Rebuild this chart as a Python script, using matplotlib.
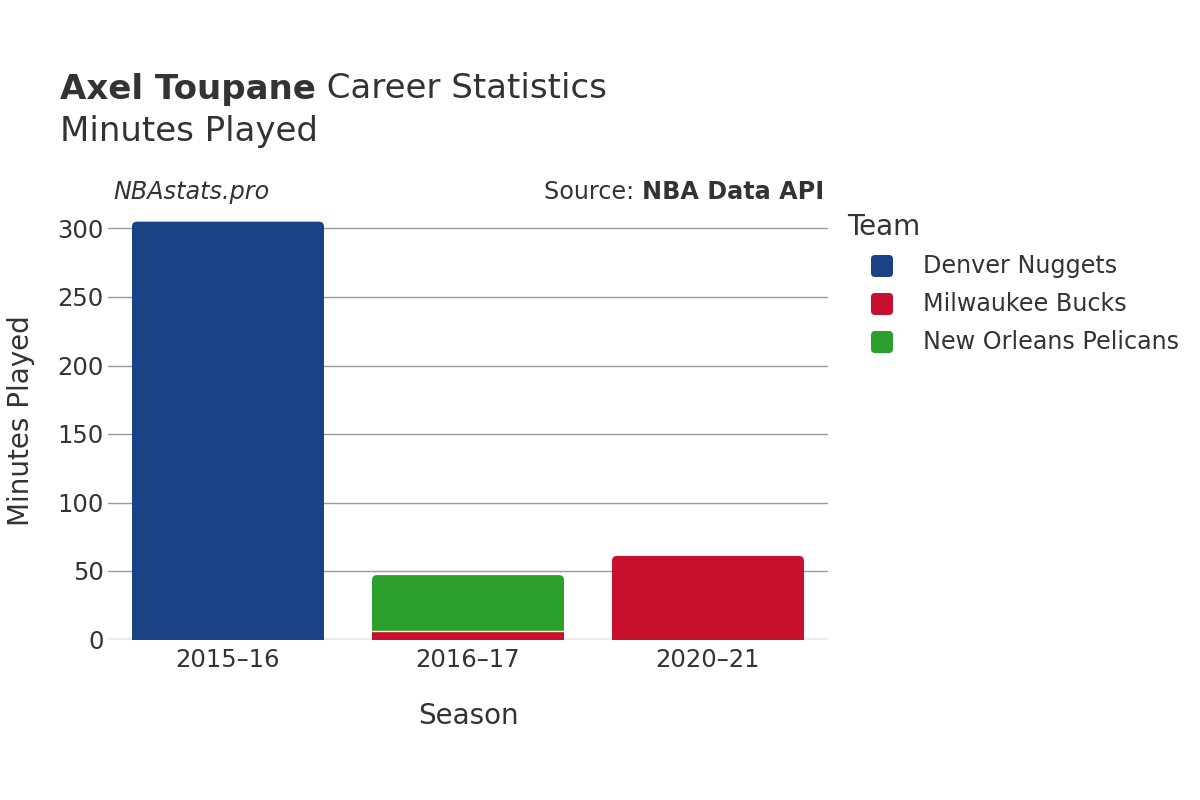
import matplotlib
matplotlib.use("Agg")
import matplotlib.pyplot as plt
from matplotlib.patches import FancyBboxPatch, Rectangle

seasons = ["2015–16", "2016–17", "2020–21"]
teams = ["Denver Nuggets", "Milwaukee Bucks", "New Orleans Pelicans"]
colors = ["#1c4286", "#c8102e", "#2ca02c"]
# minutes per team per season (stack order: Denver, Milwaukee, New Orleans)
denver = [305, 0, 0]
milwaukee = [0, 6, 61]
pelicans = [0, 41, 0]
series = [denver, milwaukee, pelicans]
yticks = [0, 50, 100, 150, 200, 250, 300]

W, H = 1200, 800
fig = plt.figure(figsize=(12, 8), dpi=100)
txt = "#333333"

ax_l, ax_r = 108, 828
y0px = 639.5
pxu = 1.37
ytop = 320
ax_t = y0px - ytop * pxu
ax = fig.add_axes([ax_l / W, 1 - y0px / H, (ax_r - ax_l) / W, (y0px - ax_t) / H])
ax.set_xlim(-0.5, len(seasons) - 0.5)
ax.set_ylim(0, ytop)
for s in ax.spines.values():
    s.set_visible(False)
ax.set_yticks(yticks)
ax.set_yticklabels([str(v) for v in yticks])
ax.yaxis.grid(True, color="#999999", lw=1)
ax.set_axisbelow(True)
ax.tick_params(axis="both", length=0, labelsize=17.5, labelcolor=txt)
ax.tick_params(axis="y", pad=3)
ax.tick_params(axis="x", pad=6)
ax.set_xticks(range(len(seasons)))
ax.set_xticklabels(seasons)
ax.axhline(0, color="#ebebeb", lw=3.5, zorder=1.5)

bw = 0.8
rx = 5 / 240.0
ry = 5 / pxu
bottoms = [0] * len(seasons)
tops = [sum(s[i] for s in series) for i in range(len(seasons))]
for ti, vals in enumerate(series):
    for i, v in enumerate(vals):
        if v <= 0:
            continue
        b = bottoms[i]
        x = i - bw / 2
        is_top = abs(b + v - tops[i]) < 1e-9
        if is_top and v > ry:
            p = FancyBboxPatch((x, b), bw, v,
                               boxstyle=f"round,pad=0,rounding_size={rx}",
                               mutation_aspect=ry / rx,
                               fc=colors[ti], ec="none", zorder=2)
            ax.add_patch(p)
            ax.add_patch(Rectangle((x, b), bw, v - ry, fc=colors[ti], ec="none", zorder=2))
        else:
            ax.add_patch(Rectangle((x, b), bw, v, fc=colors[ti], ec="none", zorder=2))
        if b > 0:
            ax.plot([x, x + bw], [b, b], color="#f5f0d0", lw=1, zorder=3)
        bottoms[i] = b + v

ax.set_xlabel("Season", fontsize=20, color=txt, labelpad=22)
ax.set_ylabel("Minutes Played", fontsize=20, color=txt, labelpad=16)

def fx(p):
    return p / W

def fy(p):
    return 1 - p / H

fig.canvas.draw()
r = fig.canvas.get_renderer()

def after(t):
    bb = t.get_window_extent(renderer=r)
    return bb.x1 / W

t1 = fig.text(fx(60), fy(89), "Axel Toupane", fontsize=24.5, fontweight="bold", color=txt, va="center")
fig.text(after(t1), fy(89), " Career Statistics", fontsize=24.5, color=txt, va="center")
fig.text(fx(60), fy(132), "Minutes Played", fontsize=24.5, color=txt, va="center")
fig.text(fx(113), fy(192), "NBAstats.pro", fontsize=17.2, style="italic", color=txt, va="center")
t2 = fig.text(fx(824), fy(192), "NBA Data API", fontsize=17.2, fontweight="bold", color=txt, va="center", ha="right")
bb2 = t2.get_window_extent(renderer=r)
fig.text(bb2.x0 / W, fy(192), "Source: ", fontsize=17.2, color=txt, va="center", ha="right")

fig.text(fx(847), fy(227), "Team", fontsize=20, color=txt, va="center")
for k, name in enumerate(teams):
    cy = 266 + 38 * k
    sz = 22
    p = FancyBboxPatch(((882 - sz / 2) / 100, (H - cy - sz / 2) / 100), sz / 100, sz / 100,
                       boxstyle="round,pad=0,rounding_size=0.04",
                       transform=fig.dpi_scale_trans, fc=colors[k], ec="none")
    fig.add_artist(p)
    fig.text(fx(923), fy(cy), name, fontsize=17.2, color=txt, va="center")

fig.savefig("out.png", dpi=100)
